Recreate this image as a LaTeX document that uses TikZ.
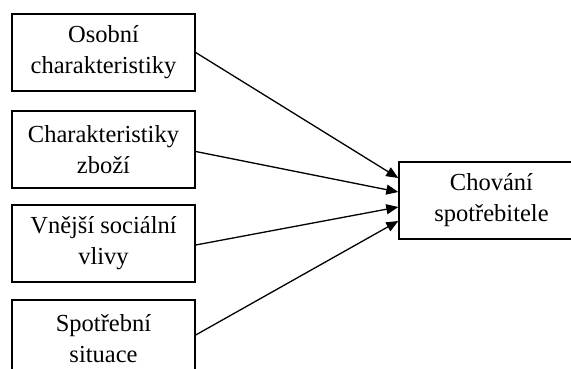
\documentclass[tikz,border=0pt]{standalone}
\usepackage{fontspec}
\setmainfont{Liberation Serif}
\usetikzlibrary{arrows.meta}
\begin{document}
\begin{tikzpicture}[x=1pt,y=-1pt,
  box/.style={draw, line width=1.4pt, minimum width=183pt, minimum height=77pt,
    align=center, inner sep=0pt, font=\fontsize{24.5}{31}\selectfont},
  conn/.style={line width=1.3pt, -{Triangle[length=12pt,width=10pt]}}]
\clip (0,0) rectangle (571,369);
\fill[white] (0,0) rectangle (571,369);
\node[box] (b1) at (103.5,52.5) {Osobní\\charakteristiky};
\node[box] (b2) at (103.5,149.5) {Charakteristiky\\zboží};
\node[box] (b3) at (103.5,243.5) {Vnější sociální\\vlivy};
\node[box] (b4) at (103.5,338.5) {Spotřební\\situace};
\node[box, minimum width=185pt] (r) at (491.5,200.5) {Chování\\spotřebitele};
\draw[conn] (b1.east) -- ([yshift=22.5pt]r.west);
\draw[conn] ([yshift=-2pt]b2.east) -- ([yshift=8.5pt]r.west);
\draw[conn] ([yshift=-1.5pt]b3.east) -- ([yshift=-6.5pt]r.west);
\draw[conn] ([yshift=3.5pt]b4.east) -- ([yshift=-20.5pt]r.west);
\end{tikzpicture}
\end{document}
